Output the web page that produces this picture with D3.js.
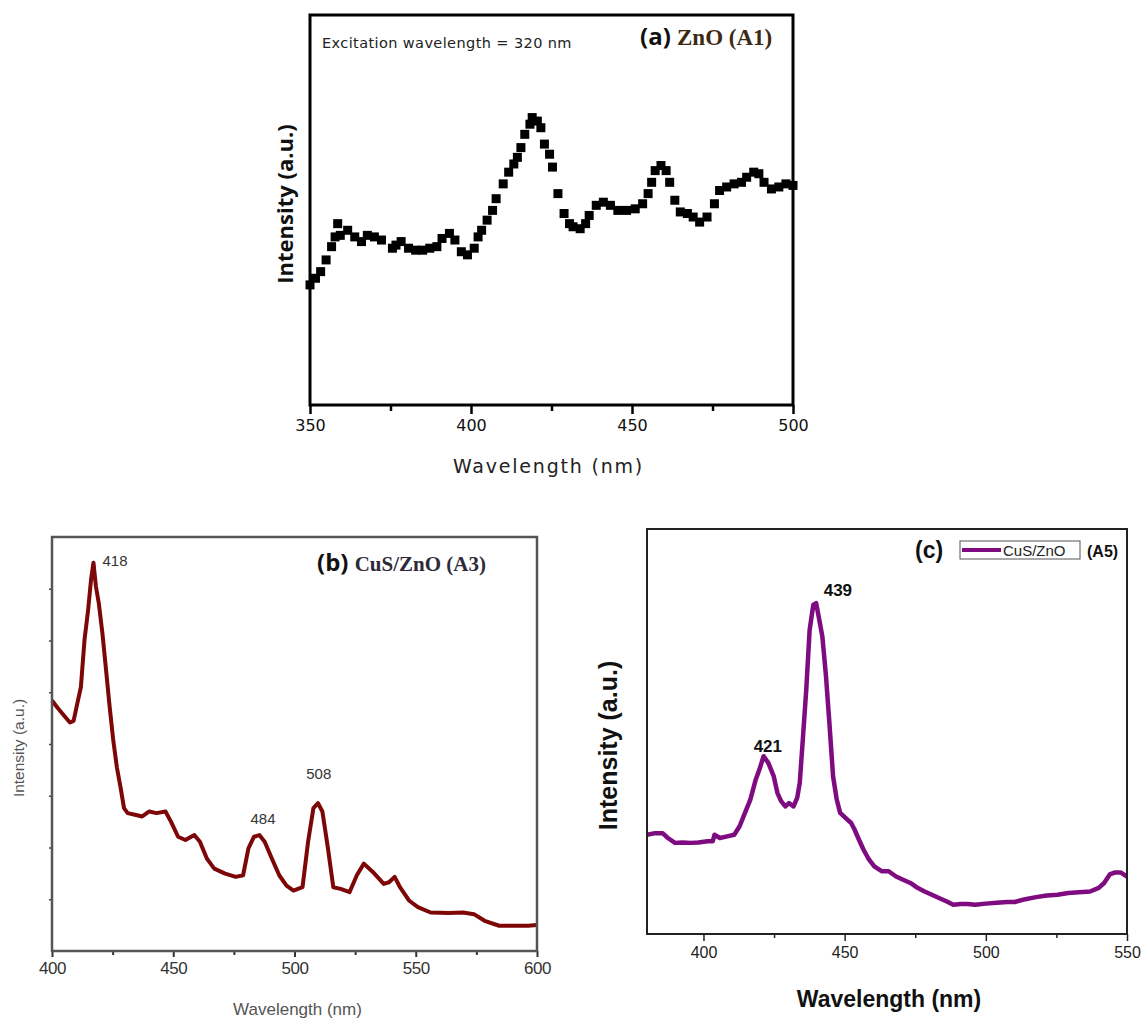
<!DOCTYPE html>
<html>
<head>
<meta charset="utf-8">
<script src="https://cdn.jsdelivr.net/npm/d3@7"></script>
<style>
  body { margin: 0; background: #fff; }
</style>
</head>
<body>
<div id="chart"></div>
<script>

// (a) ZnO (A1) -- scatter of squares
var wavelengthA = [350, 351.7, 353.3, 355, 356.7, 357.8, 358.6, 359.4, 361.7, 363.9, 366, 367.8, 370, 372.2, 375.6,
    376.7, 378.3, 380.6, 382.8, 385, 387.2, 389.4, 391, 393.3, 395, 397, 398.9, 401, 402.2, 403.3, 405, 406.7,
    407.8, 410, 411.7, 413.3, 414.4, 415.5, 416.7, 418.3, 419, 420.6, 421.7, 422.8, 424.4, 425.3, 427, 428.9,
    430.6, 431.7, 433.9, 435.6, 436.7, 438.9, 441.1, 443.3, 445.6, 448.3, 451, 453.3, 455, 456.1, 457.2, 459,
    460.6, 461.7, 463.3, 465, 467.2, 469, 471, 473.3, 475.6, 477.2, 479.4, 481.7, 484, 485.6, 487.8, 489.4,
    491, 493.3, 495.6, 497.8, 500];
var intensityA = [30.8, 32.5, 34.2, 37.2, 40.6, 43.1, 46.5, 43.5, 44.8, 43.1, 41.9, 43.5, 43.1, 42.3, 40.2,
    41.0, 41.9, 40.2, 39.7, 39.7, 40.2, 40.6, 42.7, 44.0, 42.3, 39.3, 38.5, 40.2, 43.1, 44.8, 47.4, 49.9,
    52.9, 56.7, 59.7, 61.8, 63.5, 66.0, 69.4, 72.0, 73.7, 72.8, 71.1, 66.9, 64.3, 61.0, 54.2, 49.1,
    46.5, 45.7, 45.2, 46.5, 48.6, 51.2, 52.0, 51.2, 49.9, 49.9, 50.3, 51.6, 54.2, 57.1, 60.1, 61.4,
    60.1, 57.1, 52.5, 49.5, 49.1, 48.2, 46.9, 48.2, 51.6, 55.0, 55.9, 56.7, 57.1, 58.4, 59.7, 59.3,
    57.1, 55.4, 55.9, 56.7, 56.3];

// (b) CuS/ZnO (A3)
var wavelengthB = [400, 402.2, 404.5, 407.4, 408.9, 410.4, 411.9, 413.4, 414.9, 416.1, 417.1, 418.1, 419.3, 420.8,
    422.3, 423.8, 425.3, 426.8, 428.3, 429.7, 431.2, 434.2, 437.2, 440.1, 443.1, 446.8, 449.1, 452, 455,
    458.7, 461, 463.9, 466.9, 471.4, 475.8, 478.8, 481, 483.3, 485.5, 487.7, 490.7, 493.7, 496.7, 499.6,
    503.3, 505.6, 507.8, 509.7, 511.5, 513.8, 516, 519, 522.7, 525.7, 528.6, 532.3, 536.8, 539, 541.3,
    543.5, 547.2, 550.9, 556.1, 563.6, 569.5, 574, 578.4, 584.4, 590.3, 596.3, 600];
var intensityB = [60.5, 58.8, 57.2, 55.2, 55.6, 59.7, 63.7, 75.1, 82.4, 89.7, 93.8, 88.1, 84.0, 76.7,
    67.8, 58.8, 50.7, 44.2, 39.4, 34.5, 33.3, 32.9, 32.5, 33.7, 33.3, 33.7, 31.2, 27.6, 26.8,
    28.0, 26.4, 22.3, 19.9, 18.7, 17.9, 18.3, 24.8, 27.6, 28.0, 26.4, 22.3, 18.3, 15.8, 14.6,
    15.4, 26.4, 34.5, 35.7, 33.7, 24.8, 15.4, 15.0, 14.2, 18.3, 21.1, 19.1, 16.2, 16.6, 17.9,
    15.4, 12.2, 10.6, 9.3, 9.2, 9.3, 8.9, 7.3, 6.1, 6.1, 6.1, 6.3];
var peakTextB = ['418', '484', '508'];
var peakWlB = [426, 487, 510];
var peakValB = [93, 30.7, 41.5];

// (c) CuS/ZnO (A5)
var wavelengthC = [380, 382.9, 385.5, 387.4, 389.9, 392.5, 395.6, 398.2, 401.4, 403.3, 403.9, 405.8, 408.4, 410.9,
    412.8, 414.7, 416.6, 418.5, 419.8, 421.3, 423, 424.9, 426.2, 427.5, 429, 430.3, 431.9, 433.2, 434.1,
    435.1, 436.4, 437.6, 438.9, 439.9, 440.8, 442.1, 443.4, 444.6, 445.9, 447.2, 448.4, 450.4, 452.3,
    453.5, 454.8, 456.7, 458.6, 460.5, 463.1, 465.6, 468.2, 470.7, 473.3, 475.8, 478.3, 480.9, 483.4,
    486, 488.5, 491.1, 493.6, 496.2, 500, 503.8, 507.6, 510.2, 514, 517.8, 521.6, 525.4, 529.2, 533,
    536.9, 540, 541.9, 543.9, 545.8, 547.7, 550];
var intensityC = [24.5, 24.9, 24.9, 23.7, 22.5, 22.6, 22.5, 22.6, 22.9, 22.9, 24.5, 23.7, 24.1, 24.5,
    26.6, 29.9, 33.2, 38.1, 40.6, 43.9, 42.2, 38.9, 34.8, 32.8, 31.5, 32.3, 31.5, 33.6, 37.3,
    47.2, 60.3, 75.1, 81.3, 81.7, 78.4, 73.5, 63.6, 52.1, 38.9, 33.2, 29.9, 28.6, 27.4,
    25.8, 23.7, 20.8, 18.4, 16.7, 15.5, 15.5, 14.2, 13.4, 12.6, 11.4, 10.5, 9.7, 8.9,
    8.1, 7.2, 7.4, 7.4, 7.2, 7.5, 7.7, 7.9, 7.9, 8.6, 9.1, 9.5, 9.7, 10.1, 10.3,
    10.5, 11.4, 12.6, 14.7, 15.2, 15.2, 14.2];
var peakTextC = ['421', '439'];
var peakWlC = [422.8, 447.6];
var peakValC = [44.9, 83.5];

var svg = d3.select('#chart')
    .append('svg')
    .attr('width', 1141)
    .attr('height', 1020);

function makePanel(box, xDomain) {
    var g = svg.append('g')
        .attr('transform', 'translate(' + box.left + ',' + box.top + ')');
    var w = box.right - box.left,
        h = box.bottom - box.top;
    var x = d3.scaleLinear().domain(xDomain).range([0, w]);
    var y = d3.scaleLinear().domain([0, 100]).range([h, 0]);
    return { g: g, x: x, y: y, w: w, h: h };
}

function styleAxis(sel, stroke, width) {
    sel.select('.domain').remove();
    sel.selectAll('line').attr('stroke', stroke).attr('stroke-width', width);
}

// ---------- panel (a) ----------
var A = makePanel({ left: 310, right: 793, top: 15, bottom: 405 }, [350, 500]);

var ptsA = wavelengthA.map(function(d, i) { return { wl: d, v: intensityA[i] }; });
var sq = 9;
A.g.append('g').selectAll('rect')
    .data(ptsA)
    .enter().append('rect')
    .attr('x', function(d) { return A.x(d.wl) - sq / 2; })
    .attr('y', function(d) { return A.y(d.v) - sq / 2; })
    .attr('width', sq)
    .attr('height', sq)
    .attr('fill', '#000');

var axA = A.g.append('g')
    .attr('transform', 'translate(0,' + A.h + ')')
    .call(d3.axisBottom(A.x).tickValues([350, 400, 450, 500]).tickSize(9).tickPadding(6));
styleAxis(axA, '#000', 2.5);
axA.selectAll('text')
    .attr('font-family', 'DejaVu Sans')
    .attr('font-size', 16)
    .attr('fill', '#111');
var axA2 = A.g.append('g')
    .attr('transform', 'translate(0,' + A.h + ')')
    .call(d3.axisBottom(A.x).tickValues([375, 425, 475]).tickSize(6).tickFormat(''));
styleAxis(axA2, '#000', 2.5);

A.g.append('rect')
    .attr('width', A.w).attr('height', A.h)
    .attr('fill', 'none').attr('stroke', '#000').attr('stroke-width', 3);

A.g.append('text')
    .attr('x', A.w / 2 - 3).attr('y', A.h + 68)
    .attr('text-anchor', 'middle')
    .attr('font-family', 'DejaVu Sans').attr('font-size', 19)
    .attr('letter-spacing', 1.8).attr('fill', '#222')
    .text('Wavelength (nm)');

A.g.append('text')
    .attr('transform', 'translate(-17,' + (A.h / 2 - 6) + ') rotate(-90)')
    .attr('text-anchor', 'middle')
    .attr('font-family', 'Open Sans').attr('font-weight', 'bold').attr('font-size', 22)
    .attr('fill', '#111')
    .text('Intensity (a.u.)');

A.g.append('text')
    .attr('x', 12).attr('y', 33)
    .attr('font-family', 'DejaVu Sans').attr('font-size', 14.5).attr('fill', '#222')
    .attr('letter-spacing', 0.4)
    .text('Excitation wavelength = 320 nm');

var titleA = A.g.append('text').attr('x', 330).attr('y', 30);
titleA.append('tspan')
    .attr('font-family', 'Open Sans').attr('font-weight', 'bold').attr('font-size', 24).attr('fill', '#111')
    .text('(a) ');
titleA.append('tspan')
    .attr('font-family', 'Liberation Serif').attr('font-weight', 'bold').attr('font-size', 23).attr('fill', '#3d2a14')
    .text('ZnO (A1)');

// ---------- panel (b) ----------
var B = makePanel({ left: 52, right: 537, top: 537, bottom: 951 }, [400, 600]);

var ptsB = wavelengthB.map(function(d, i) { return { wl: d, v: intensityB[i] }; });
B.g.append('path')
    .datum(ptsB)
    .attr('fill', 'none')
    .attr('stroke', '#7d0606')
    .attr('stroke-width', 4)
    .attr('stroke-linejoin', 'round')
    .attr('d', d3.line().x(function(d) { return B.x(d.wl); }).y(function(d) { return B.y(d.v); }));

var axB = B.g.append('g')
    .attr('transform', 'translate(0,' + B.h + ')')
    .call(d3.axisBottom(B.x).tickValues([400, 450, 500, 550, 600]).tickSize(6).tickPadding(5));
styleAxis(axB, '#333', 2);
axB.selectAll('text')
    .attr('font-family', 'Liberation Sans').attr('font-size', 17)
    .attr('letter-spacing', -0.5).attr('fill', '#333');
var axB2 = B.g.append('g')
    .attr('transform', 'translate(0,' + B.h + ')')
    .call(d3.axisBottom(B.x).tickValues([425, 475, 525, 575]).tickSize(4).tickFormat(''));
styleAxis(axB2, '#333', 2);
var axBy = B.g.append('g')
    .call(d3.axisLeft(B.y).tickValues([12.5, 25, 37.5, 50, 62.5, 75, 87.5]).tickSize(3).tickFormat(''));
styleAxis(axBy, '#444', 1.5);

B.g.append('rect')
    .attr('width', B.w).attr('height', B.h)
    .attr('fill', 'none').attr('stroke', '#555').attr('stroke-width', 2.5);

B.g.append('text')
    .attr('x', B.w / 2 + 3).attr('y', B.h + 64)
    .attr('text-anchor', 'middle')
    .attr('font-family', 'Liberation Sans').attr('font-size', 17).attr('fill', '#555')
    .text('Wavelength (nm)');

B.g.append('text')
    .attr('transform', 'translate(-28,' + (B.h / 2 + 4) + ') rotate(-90)')
    .attr('text-anchor', 'middle')
    .attr('font-family', 'Liberation Sans').attr('font-size', 15.5).attr('fill', '#555')
    .text('Intensity (a.u.)');

B.g.selectAll('.peak')
    .data(peakTextB)
    .enter().append('text')
    .attr('class', 'peak')
    .attr('x', function(d, i) { return B.x(peakWlB[i]); })
    .attr('y', function(d, i) { return B.y(peakValB[i]); })
    .attr('text-anchor', 'middle')
    .attr('font-family', 'Liberation Sans').attr('font-size', 15).attr('fill', '#333')
    .text(function(d) { return d; });

var titleB = B.g.append('text').attr('x', 265).attr('y', 34);
titleB.append('tspan')
    .attr('font-family', 'Open Sans').attr('font-weight', 'bold').attr('font-size', 24).attr('fill', '#111')
    .text('(b) ');
titleB.append('tspan')
    .attr('font-family', 'Liberation Serif').attr('font-weight', 'bold').attr('font-size', 21).attr('fill', '#2e2a3a')
    .text('CuS/ZnO (A3)');

// ---------- panel (c) ----------
var C = makePanel({ left: 647, right: 1127, top: 529, bottom: 934 }, [380, 550]);

var ptsC = wavelengthC.map(function(d, i) { return { wl: d, v: intensityC[i] }; });
C.g.append('path')
    .datum(ptsC)
    .attr('fill', 'none')
    .attr('stroke', '#7f0b80')
    .attr('stroke-width', 4.5)
    .attr('stroke-linejoin', 'round')
    .attr('d', d3.line().x(function(d) { return C.x(d.wl); }).y(function(d) { return C.y(d.v); }));

var axC = C.g.append('g')
    .attr('transform', 'translate(0,' + C.h + ')')
    .call(d3.axisBottom(C.x).tickValues([400, 450, 500, 550]).tickSize(7).tickPadding(6));
styleAxis(axC, '#222', 1.5);
axC.selectAll('text')
    .attr('font-family', 'Liberation Sans').attr('font-size', 16).attr('fill', '#222');
var axC2 = C.g.append('g')
    .attr('transform', 'translate(0,' + C.h + ')')
    .call(d3.axisBottom(C.x).tickValues([425, 475, 525]).tickSize(4).tickFormat(''));
styleAxis(axC2, '#222', 1.5);

C.g.append('rect')
    .attr('width', C.w).attr('height', C.h)
    .attr('fill', 'none').attr('stroke', '#222').attr('stroke-width', 2);

C.g.append('text')
    .attr('x', C.w / 2 + 2).attr('y', C.h + 73)
    .attr('text-anchor', 'middle')
    .attr('font-family', 'Liberation Sans').attr('font-weight', 'bold').attr('font-size', 23).attr('fill', '#111')
    .text('Wavelength (nm)');

C.g.append('text')
    .attr('transform', 'translate(-30,' + (C.h / 2 + 14) + ') rotate(-90)')
    .attr('text-anchor', 'middle')
    .attr('font-family', 'Liberation Sans').attr('font-weight', 'bold').attr('font-size', 25).attr('fill', '#111')
    .text('Intensity (a.u.)');

C.g.selectAll('.peak')
    .data(peakTextC)
    .enter().append('text')
    .attr('class', 'peak')
    .attr('x', function(d, i) { return C.x(peakWlC[i]); })
    .attr('y', function(d, i) { return C.y(peakValC[i]); })
    .attr('text-anchor', 'middle')
    .attr('font-family', 'Liberation Sans').attr('font-weight', 'bold').attr('font-size', 17).attr('fill', '#111')
    .text(function(d) { return d; });

// legend row "(c) [—— CuS/ZnO] (A5)"
C.g.append('text')
    .attr('x', 268).attr('y', 29)
    .attr('font-family', 'Liberation Sans').attr('font-weight', 'bold').attr('font-size', 23).attr('fill', '#111')
    .text('(c)');
C.g.append('rect')
    .attr('x', 313).attr('y', 12).attr('width', 120).attr('height', 18)
    .attr('fill', '#fff').attr('stroke', '#555').attr('stroke-width', 1);
C.g.append('line')
    .attr('x1', 315).attr('x2', 354).attr('y1', 21).attr('y2', 21)
    .attr('stroke', '#7f0b80').attr('stroke-width', 4);
C.g.append('text')
    .attr('x', 356).attr('y', 27)
    .attr('font-family', 'Liberation Sans').attr('font-size', 15).attr('fill', '#222')
    .text('CuS/ZnO');
C.g.append('text')
    .attr('x', 440).attr('y', 28)
    .attr('font-family', 'Liberation Sans').attr('font-weight', 'bold').attr('font-size', 16).attr('fill', '#111')
    .text('(A5)');

</script>
</body>
</html>
